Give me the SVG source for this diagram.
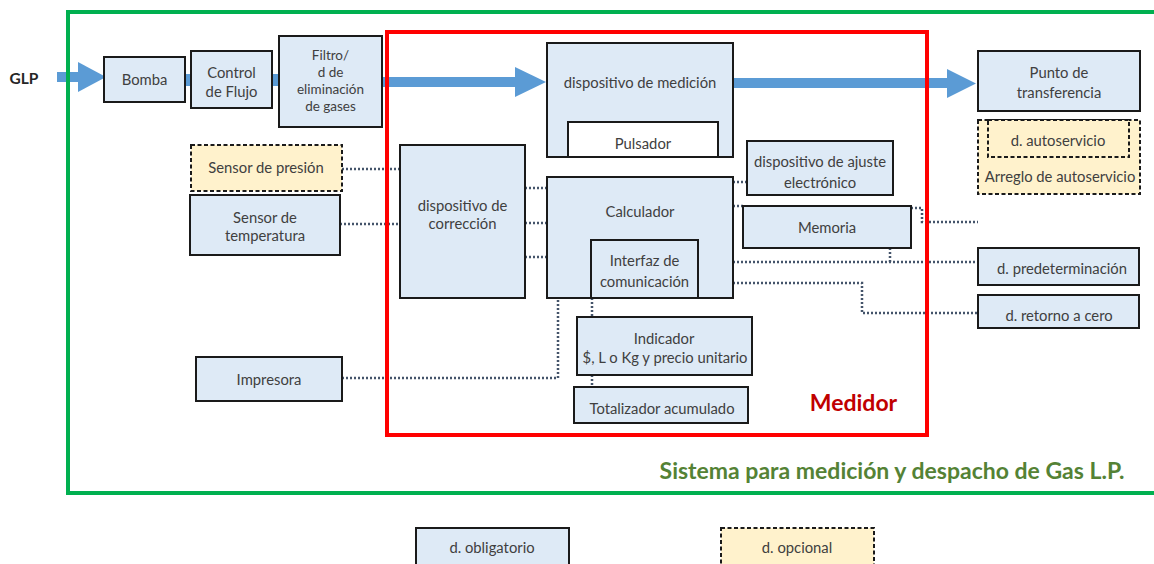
<svg xmlns="http://www.w3.org/2000/svg" width="1154" height="564" viewBox="0 0 1154 564">
<style>
.b{fill:#DEEAF6;stroke:#1a1a1a;stroke-width:2}
.w{fill:#ffffff;stroke:#1a1a1a;stroke-width:2}
.o{fill:#FFF2CC;stroke:#1a1a1a;stroke-width:2;stroke-dasharray:4 2.5}
text{font-family:Lato,"Noto Sans","Liberation Sans",sans-serif;font-size:14.8px;fill:#404040;text-anchor:middle;dominant-baseline:central}
.sm{font-size:13.5px}
.c{fill:none;stroke:#44546A;stroke-width:2.5;stroke-dasharray:2 2}
.flow{fill:#5B9BD5}
</style>
<rect width="1154" height="564" fill="#ffffff"/>
<g id="flow">
<rect class="flow" x="57" y="72" width="22" height="10"/>
<polygon class="flow" points="78,62 106,77 78,92"/>
<rect class="flow" x="185" y="74" width="6" height="12"/>
<rect class="flow" x="272" y="74" width="7" height="12"/>
<rect class="flow" x="382" y="77" width="135" height="10"/>
<polygon class="flow" points="515,67 546,82 515,97"/>
<rect class="flow" x="733" y="78" width="216" height="10"/>
<polygon class="flow" points="947,69 976,83.5 947,98"/>
</g>
<g id="connectors">
<path class="c" d="M342 169H400"/>
<path class="c" d="M340 224H400"/>
<path class="c" d="M525 188H547"/>
<path class="c" d="M525 223H547"/>
<path class="c" d="M525 257H547"/>
<path class="c" d="M733 182H747"/>
<path class="c" d="M733 206H743"/>
<path class="c" d="M911 208H922V222H978"/>
<path class="c" d="M733 262H978"/>
<path class="c" d="M890 248V262"/>
<path class="c" d="M733 283H862V313H978"/>
<path class="c" d="M592 298V317"/>
<path class="c" d="M592 375V387"/>
<path class="c" d="M342 378H558V298"/>
</g>
<text x="24" y="78" style="font-weight:bold;fill:#262626;font-size:15.5px">GLP</text>
<g id="bomba"><rect class="b" x="104" y="57" width="81" height="45"/><text x="144.5" y="79">Bomba</text></g>
<g id="control"><rect class="b" x="191" y="51" width="81" height="57"/><text x="231.5" y="72">Control</text><text x="231.5" y="91">de Flujo</text></g>
<g id="filtro"><rect class="b" x="279" y="36" width="103" height="91"/><text class="sm" x="330.5" y="55">Filtro/</text><text class="sm" x="330.5" y="72">d de</text><text class="sm" x="330.5" y="89">eliminación</text><text class="sm" x="330.5" y="106">de gases</text></g>
<g id="medicion"><rect class="b" x="547" y="43" width="186" height="114"/><text x="640" y="82">dispositivo de medición</text></g>
<g id="pulsador"><rect class="w" x="568" y="122" width="150" height="35"/><text x="643" y="143">Pulsador</text></g>
<g id="punto"><rect class="b" x="978" y="51" width="162" height="60"/><text x="1059" y="72">Punto de</text><text x="1059" y="92">transferencia</text></g>
<g id="arreglo"><rect class="o" x="978" y="120" width="162" height="74"/><text x="1060" y="176">Arreglo de autoservicio</text></g>
<g id="autoservicio"><rect class="o" x="988" y="120" width="141" height="37"/><text x="1058" y="140">d. autoservicio</text></g>
<g id="presion"><rect class="o" x="191" y="145" width="151" height="46"/><text x="266" y="167">Sensor de presión</text></g>
<g id="temperatura"><rect class="b" x="190" y="195" width="150" height="60"/><text x="265" y="217">Sensor de</text><text x="265" y="235">temperatura</text></g>
<g id="correccion"><rect class="b" x="400" y="145" width="125" height="153"/><text x="462.5" y="205">dispositivo de</text><text x="462.5" y="223">corrección</text></g>
<g id="calculador"><rect class="b" x="547" y="177" width="186" height="121"/><text x="640" y="211">Calculador</text></g>
<g id="interfaz"><rect class="b" x="591" y="240" width="107" height="58"/><text x="644.5" y="260">Interfaz de</text><text x="644.5" y="281">comunicación</text></g>
<g id="ajuste"><rect class="b" x="747" y="141" width="146" height="54"/><text x="820" y="161">dispositivo de ajuste</text><text x="820" y="182">electrónico</text></g>
<g id="memoria"><rect class="b" x="743" y="206" width="168" height="42"/><text x="827" y="227">Memoria</text></g>
<g id="predeterminacion"><rect class="b" x="978" y="248" width="161" height="37"/><text x="1062" y="268">d. predeterminación</text></g>
<g id="retorno"><rect class="b" x="978" y="295" width="161" height="33"/><text x="1059" y="315">d. retorno a cero</text></g>
<g id="indicador"><rect class="b" x="577" y="317" width="175" height="58"/><text x="664" y="338">Indicador</text><text x="665" y="357">$, L o Kg y precio unitario</text></g>
<g id="totalizador"><rect class="b" x="574" y="387" width="174" height="36"/><text x="662" y="408">Totalizador acumulado</text></g>
<g id="impresora"><rect class="b" x="196" y="357" width="146" height="44"/><text x="269" y="379">Impresora</text></g>
<g id="medidor"><rect x="387" y="32" width="540" height="403" fill="none" stroke="#FF0000" stroke-width="4"/><text x="853.5" y="402" style="font-weight:bold;fill:#C00000;font-size:23px">Medidor</text></g>
<g id="sistema"><rect x="68" y="12" width="1100" height="481" fill="none" stroke="#00B050" stroke-width="4"/><text x="892" y="470" style="font-weight:bold;fill:#548235;font-size:23px">Sistema para medición y despacho de Gas L.P.</text></g>
<g id="legend-obligatorio"><rect class="b" x="416" y="528" width="153" height="50"/><text x="492" y="547">d. obligatorio</text></g>
<g id="legend-opcional"><rect class="o" x="721" y="528" width="153" height="50"/><text x="797" y="547">d. opcional</text></g>
</svg>
